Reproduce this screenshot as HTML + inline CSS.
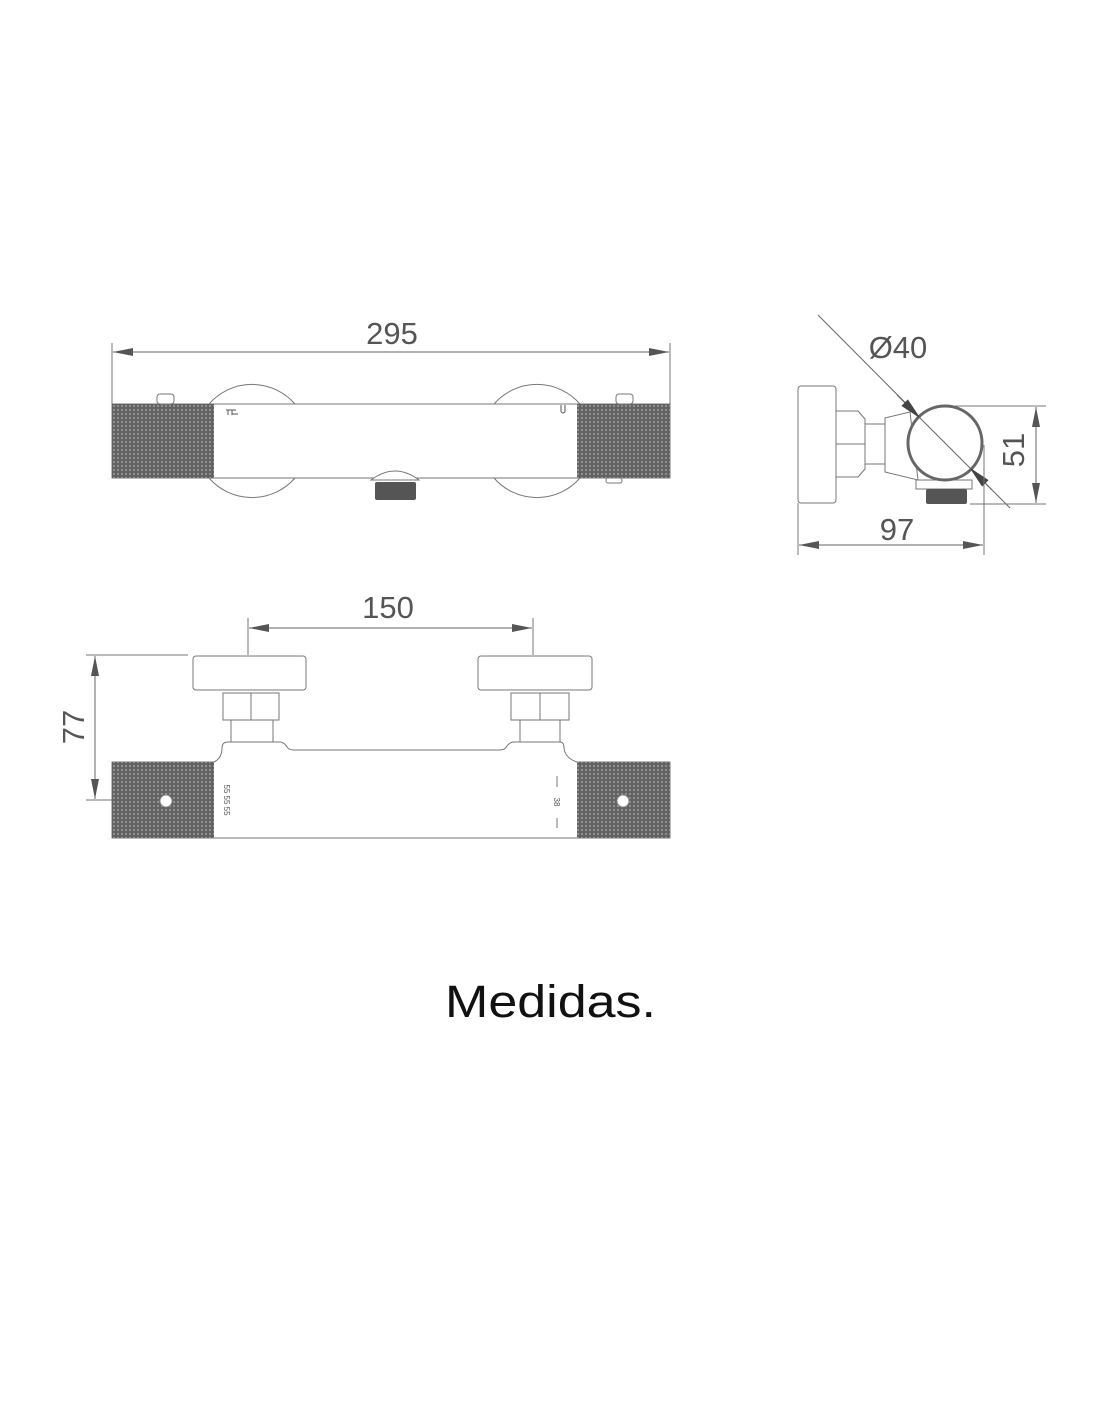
<!DOCTYPE html>
<html><head><meta charset="utf-8"><style>html,body{margin:0;padding:0;background:#fff}svg{display:block}</style></head>
<body>
<svg width="1100" height="1422" viewBox="0 0 1100 1422" xmlns="http://www.w3.org/2000/svg" font-family="Liberation Sans, sans-serif">
<defs>
<pattern id="k" width="4" height="4" patternUnits="userSpaceOnUse">
<rect width="4" height="4" fill="#606060"/>
<circle cx="2" cy="2" r="1.2" fill="#909090"/>
</pattern>
<marker id="a" viewBox="0 0 20 8" refX="20" refY="4" markerWidth="20" markerHeight="8" markerUnits="userSpaceOnUse" orient="auto-start-reverse"><path d="M0,0 L20,4 L0,8 Z" fill="#555"/></marker>
</defs>
<g stroke="#777" stroke-width="1" fill="none">
<!-- TOP VIEW -->
<line x1="112" y1="343" x2="112" y2="404"/><line x1="670" y1="343" x2="670" y2="404"/>
<line x1="113" y1="352" x2="669" y2="352" stroke="#666" marker-start="url(#a)" marker-end="url(#a)"/>
<path d="M209,404 A57,57 0 0 1 295,404"/><path d="M209,478 A57,57 0 0 0 295,478"/>
<path d="M494,404 A57,57 0 0 1 580,404"/><path d="M494,478 A57,57 0 0 0 580,478"/>
<rect x="112" y="404" width="558" height="74" fill="#fff"/>
<rect x="112" y="404" width="102" height="74" fill="url(#k)" stroke="none"/>
<rect x="577" y="404" width="93" height="74" fill="url(#k)" stroke="none"/>
<rect x="157" y="394" width="17" height="10" rx="3" fill="#fff"/>
<rect x="616" y="394" width="17" height="10" rx="3" fill="#fff"/>
<path d="M226,410 h10 M228,410 v5 M232,410 v5 M232,414 h6" stroke="#555"/>
<path d="M561,405 v6 a2,2 0 0 0 4,0 v-6" stroke="#555"/>
<path d="M371,480 Q395,462 419,480 Z" fill="#fff"/>
<rect x="375" y="482" width="41" height="18" rx="2" fill="#555" stroke="none"/>
<rect x="606" y="478" width="16" height="5" rx="2" fill="#fff"/>
<!-- SIDE VIEW -->
<line x1="818" y1="315" x2="1010" y2="508" stroke="#666"/>
<rect x="798" y="386" width="38" height="117" rx="3" fill="#fff"/>
<path d="M836,411 h22 l7,8 v50 l-7,8 h-22 Z M836,444 h29" fill="#fff"/>
<rect x="865" y="424" width="20" height="40" fill="#fff"/>
<path d="M885,418 L910,412 L918,480 L885,472 Z" fill="#fff"/>
<rect x="916" y="480" width="56" height="9" fill="#fff"/>
<rect x="926" y="489" width="41" height="15" rx="2" fill="#555" stroke="none"/>
<circle cx="945" cy="443" r="37" fill="#fff" stroke="#666" stroke-width="3"/>
<line x1="897" y1="395" x2="992" y2="490" stroke="#666"/>
<polygon points="919,417 907.8,400.2 902.2,405.8" fill="#444" stroke="#444"/>
<polygon points="971,469 987.8,480.2 982.2,485.8" fill="#444" stroke="#444"/>
<line x1="955" y1="406" x2="1046" y2="406"/><line x1="970" y1="504" x2="1046" y2="504"/>
<line x1="1036" y1="407" x2="1036" y2="503" stroke="#666" marker-start="url(#a)" marker-end="url(#a)"/>
<line x1="798" y1="503" x2="798" y2="555"/><line x1="984" y1="445" x2="984" y2="555"/>
<line x1="799" y1="545" x2="983" y2="545" stroke="#666" marker-start="url(#a)" marker-end="url(#a)"/>
<!-- BOTTOM VIEW -->
<line x1="248" y1="618" x2="248" y2="655"/><line x1="533" y1="618" x2="533" y2="655"/>
<line x1="249" y1="628" x2="532" y2="628" stroke="#666" marker-start="url(#a)" marker-end="url(#a)"/>
<line x1="86" y1="655" x2="188" y2="655"/><line x1="86" y1="800" x2="112" y2="800"/>
<line x1="95" y1="656" x2="95" y2="799" stroke="#666" marker-start="url(#a)" marker-end="url(#a)"/>
<rect x="193" y="656" width="113" height="34" rx="3" fill="#fff"/>
<rect x="478" y="656" width="114" height="34" rx="3" fill="#fff"/>
<rect x="223" y="693" width="56" height="27" fill="#fff"/><line x1="251" y1="693" x2="251" y2="720"/>
<rect x="511" y="693" width="58" height="27" fill="#fff"/><line x1="540" y1="693" x2="540" y2="720"/>
<rect x="231" y="720" width="42" height="22" fill="#fff"/>
<rect x="520" y="720" width="40" height="22" fill="#fff"/>
<path d="M112,762 H214 Q222,758 222,748 Q222,742 228,742 H280 Q284,742 287,747 Q289,750 294,750 H500 Q505,750 507,746 Q510,742 514,742 H560 Q564,742 564,748 Q565,758 577,762 H670 V838 H112 Z" fill="#fff"/>
<rect x="112" y="762" width="102" height="76" fill="url(#k)" stroke="none"/>
<rect x="577" y="762" width="93" height="76" fill="url(#k)" stroke="none"/>
<circle cx="166" cy="801" r="6" fill="#fff" stroke="#888"/>
<circle cx="623" cy="801" r="6" fill="#fff" stroke="#888"/>
<line x1="557" y1="776" x2="557" y2="787"/><line x1="557" y1="818" x2="557" y2="828"/>
</g>
<g fill="#555" font-size="31">
<text x="392" y="344" text-anchor="middle">295</text>
<text x="898" y="358" text-anchor="middle">Ø40</text>
<text x="897" y="540" text-anchor="middle">97</text>
<text x="388" y="618" text-anchor="middle">150</text>
<text transform="translate(1024,450) rotate(-90)" text-anchor="middle">51</text>
<text transform="translate(84,727) rotate(-90)" text-anchor="middle">77</text>
<text transform="translate(224,800) rotate(90)" text-anchor="middle" font-size="8">55 55 55</text>
<text transform="translate(554,802) rotate(90)" text-anchor="middle" font-size="8">38</text>
</g>
<text x="445" y="1017" font-size="45" fill="#111" textLength="211" lengthAdjust="spacingAndGlyphs">Medidas.</text>
</svg>
</body></html>
